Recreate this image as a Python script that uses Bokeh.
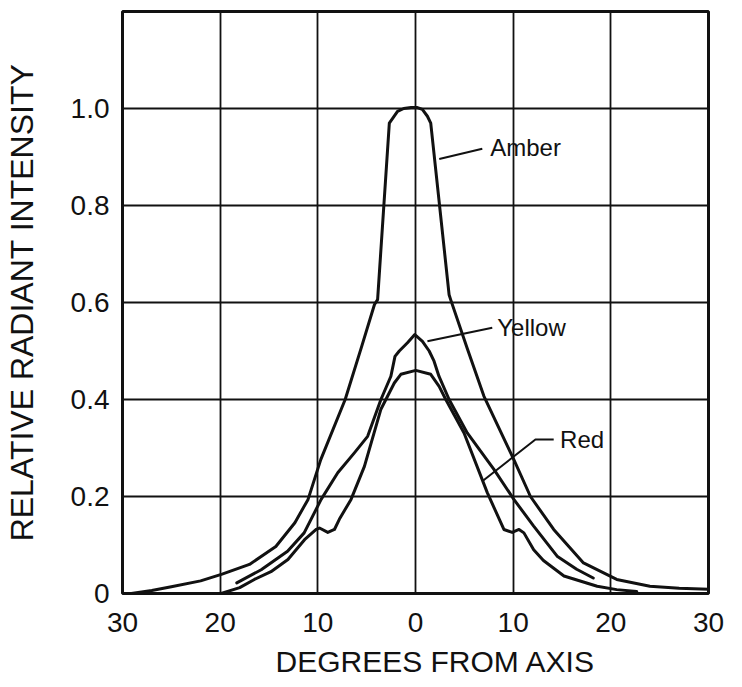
from bokeh.plotting import figure
from bokeh.models import FixedTicker, CustomJSTickFormatter, Label, Title
from bokeh.embed import file_html
from bokeh.resources import INLINE

# ---- data ----
amber_x = [-29.1, -27.0, -25.0, -22.0, -19.8, -17.0, -14.3, -12.35, -11.0, -9.7, -7.2, -5.5, -4.2, -3.88,
           -2.68, -1.84, -1.2, -0.45, 0.2, 0.7, 1.22, 1.56, 3.44, 3.6, 5.3, 7.0, 10.07, 11.77,
           14.15, 17.2, 20.6, 24.0, 27.0, 30.0]
amber_y = [0.0, 0.006, 0.014, 0.026, 0.040, 0.060, 0.097, 0.146, 0.194, 0.276, 0.40, 0.51, 0.596, 0.606,
           0.970, 0.994, 1.0, 1.002, 1.002, 0.998, 0.984, 0.970, 0.616, 0.606, 0.505, 0.407, 0.276, 0.200,
           0.132, 0.063, 0.029, 0.015, 0.011, 0.009]

yellow_x = [-18.3, -15.8, -13.1, -11.4, -9.66, -7.96, -6.26, -4.9, -3.54, -2.52, -2.1, -1.66, -0.82,
            -0.07, 0.71, 1.4, 1.9, 2.4, 3.44, 5.3, 8.03, 10.07, 12.1, 14.5, 16.5, 18.2]
yellow_y = [0.022, 0.049, 0.087, 0.125, 0.194, 0.249, 0.290, 0.324, 0.400, 0.448, 0.489, 0.500, 0.517,
            0.534, 0.520, 0.500, 0.479, 0.448, 0.400, 0.331, 0.256, 0.194, 0.139, 0.077, 0.050, 0.032]

red_x = [-19.9, -18.0, -16.5, -14.8, -13.06, -11.36, -10.17, -9.83, -8.98, -8.3, -7.8, -6.6, -5.23,
         -3.54, -2.17, -1.5, 0.03, 1.56, 2.42, 3.1, 4.97, 7.35, 9.05, 9.9, 10.6, 11.1, 12.1, 13.1,
         15.2, 18.6, 20.6, 22.65]
red_y = [0.0, 0.012, 0.029, 0.045, 0.070, 0.111, 0.132, 0.135, 0.126, 0.132, 0.153, 0.194, 0.262,
         0.380, 0.434, 0.452, 0.460, 0.452, 0.427, 0.400, 0.331, 0.208, 0.132, 0.126, 0.132, 0.125,
         0.090, 0.068, 0.036, 0.015, 0.008, 0.004]

x_ticks = [-30, -20, -10, 0, 10, 20, 30]
y_ticks = [0, 0.2, 0.4, 0.6, 0.8, 1.0]
y_grid = [0, 0.2, 0.4, 0.6, 0.8, 1.0, 1.2]

series_names = ["Amber", "Yellow", "Red"]
# label anchor (text start) and leader polyline for each series
label_pos = {"Amber": (7.65, 0.92), "Yellow": (8.37, 0.548), "Red": (14.8, 0.3175)}
leader_x = {"Amber": [2.43, 6.84], "Yellow": [1.22, 7.86], "Red": [6.84, 12.28, 14.15]}
leader_y = {"Amber": [0.896, 0.917], "Yellow": [0.520, 0.548], "Red": [0.2316, 0.3175, 0.3175]}

FONT = "Liberation Sans"
INK = "#111111"

p = figure(width=730, height=686, x_range=(-30, 30), y_range=(0, 1.2),
           output_backend="svg", toolbar_location=None,
           min_border_left=120, min_border_right=22, min_border_top=11, min_border_bottom=93)
p.background_fill_color = "white"
p.border_fill_color = "white"
p.outline_line_color = INK
p.outline_line_width = 3

p.xgrid.ticker = FixedTicker(ticks=x_ticks)
p.ygrid.ticker = FixedTicker(ticks=y_grid)
for g in (p.xgrid[0], p.ygrid[0]):
    g.grid_line_color = INK
    g.grid_line_width = 1.8
    g.grid_line_alpha = 1.0

p.xaxis.ticker = FixedTicker(ticks=x_ticks)
p.yaxis.ticker = FixedTicker(ticks=y_ticks)
p.xaxis.formatter = CustomJSTickFormatter(code="return Math.abs(Math.round(tick)).toString();")
p.yaxis.formatter = CustomJSTickFormatter(code="return tick == 0 ? '0' : tick.toFixed(1);")
for ax in (p.xaxis[0], p.yaxis[0]):
    ax.axis_line_color = None
    ax.major_tick_line_color = None
    ax.minor_tick_line_color = None
    ax.major_tick_out = 0
    ax.major_tick_in = 0
    ax.major_label_text_font = FONT
    ax.major_label_text_font_size = "28px"
    ax.major_label_text_color = INK
p.xaxis.major_label_standoff = 19
p.yaxis.major_label_standoff = 13

p.yaxis.axis_label = "RELATIVE RADIANT INTENSITY"
p.yaxis.axis_label_text_font = FONT
p.yaxis.axis_label_text_font_size = "32px"
p.yaxis.axis_label_text_font_style = "normal"
p.yaxis.axis_label_text_color = INK
p.yaxis.axis_label_standoff = 28

# x-axis title, placed below the axis and shifted right as in the reference
p.add_layout(Title(text="DEGREES FROM AXIS", align="left", offset=153, standoff=16,
                   text_font=FONT, text_font_size="30px", text_font_style="normal",
                   text_color=INK), "below")

# curves
for xs, ys in ((amber_x, amber_y), (yellow_x, yellow_y), (red_x, red_y)):
    p.line(xs, ys, line_color=INK, line_width=3, line_join="round", line_cap="round")

# leaders and labels
for name in series_names:
    p.line(leader_x[name], leader_y[name], line_color=INK, line_width=2)
    lx, ly = label_pos[name]
    p.add_layout(Label(x=lx, y=ly, text=name, text_font=FONT, text_font_size="24px",
                       text_color=INK, text_baseline="middle", text_align="left"))

open("out.html", "w").write(file_html(p, INLINE))
